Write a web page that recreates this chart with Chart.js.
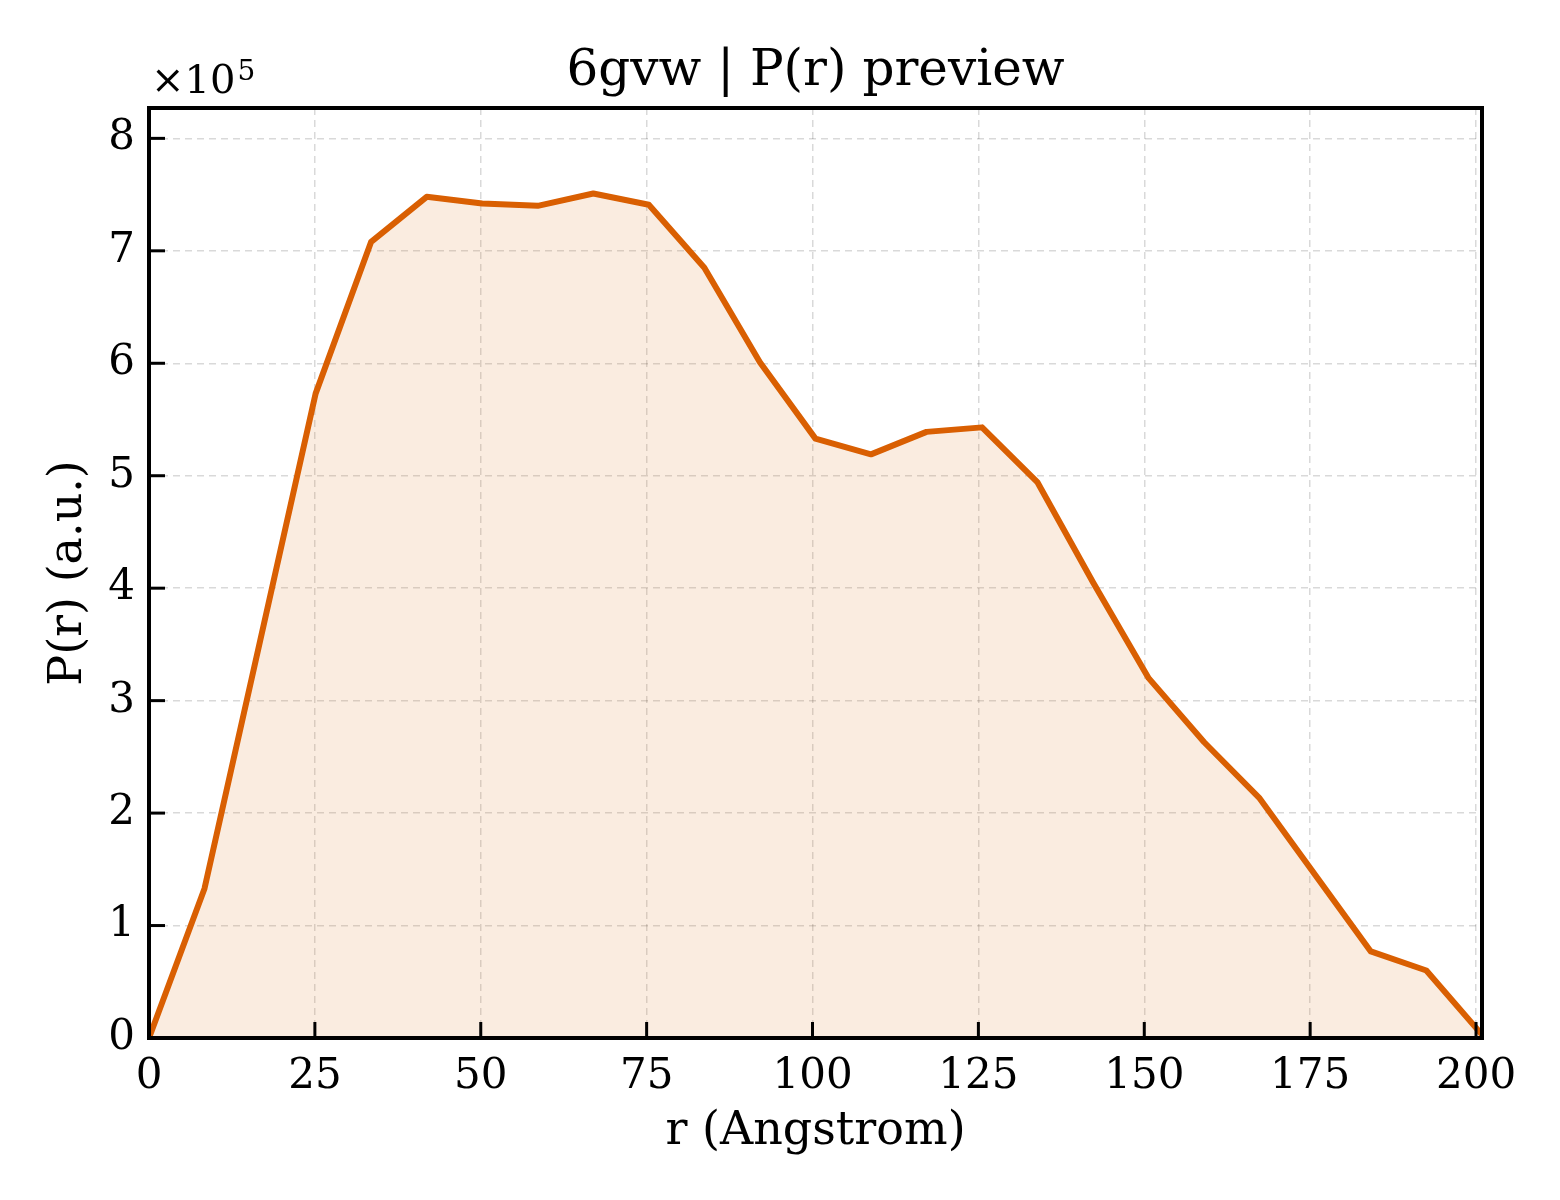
<!DOCTYPE html>
<html>
<head>
<meta charset="utf-8">
<script src="https://cdn.jsdelivr.net/npm/chart.js@4.4.1/dist/chart.umd.min.js"></script>
<style>
	html, body { margin: 0; padding: 0; background: #fff; }
	canvas { display: block; }
</style>
</head>
<body>
<canvas id="chart" width="1560" height="1200"></canvas>
<script>
// r values (Angstrom) and P(r)
const rValues = [
	0, 8.37, 16.74, 25.11, 33.48, 41.85, 50.22, 58.59, 66.96, 75.33,
	83.7, 92.07, 100.44, 108.81, 117.18, 125.55, 133.92, 142.29, 150.66,
	159.03, 167.4, 175.77, 184.14, 192.51, 200.88,
]
const prValues = [
	0, 133000, 353000, 573000, 708000, 748000, 742000, 740000, 751000, 741000,
	685000, 601000, 533000, 519000, 539000, 543000, 494000, 405000, 320000,
	263000, 213000, 145000, 77000, 60000, 3000,
]
const xTicks = [0, 25, 50, 75, 100, 125, 150, 175, 200]
const yTicks = [0, 1, 2, 3, 4, 5, 6, 7, 8]

const lineColor = '#d95f02'
const fontFamily = '"DejaVu Serif", "Liberation Serif", serif'

const points = rValues.map((r, i) => ({ x: r, y: prValues[i] }))

// matplotlib-like frame, inward ticks, title and offset text
const framePlugin = {
	id: 'frame',
	afterDraw(chart) {
		const { ctx, chartArea, scales } = chart
		const { left, right, top, bottom } = chartArea
		ctx.save()
		ctx.strokeStyle = '#000'
		ctx.lineWidth = 3
		scales.y.ticks.forEach((t) => {
			const y = scales.y.getPixelForValue(t.value)
			ctx.beginPath()
			ctx.moveTo(left, y)
			ctx.lineTo(left + 16, y)
			ctx.stroke()
		})
		scales.x.ticks.forEach((t) => {
			const x = scales.x.getPixelForValue(t.value)
			ctx.beginPath()
			ctx.moveTo(x, bottom)
			ctx.lineTo(x, bottom - 16)
			ctx.stroke()
		})
		ctx.lineWidth = 4
		ctx.strokeRect(left, top, right - left, bottom - top)

		ctx.fillStyle = '#000'
		ctx.textBaseline = 'alphabetic'
		ctx.textAlign = 'center'
		ctx.font = `50px ${fontFamily}`
		ctx.fillText('6gvw | P(r) preview', (left + right) / 2, 85)

		ctx.textAlign = 'left'
		ctx.font = `40px ${fontFamily}`
		ctx.fillText('×10', 151, 93)
		const w = ctx.measureText('×10').width
		ctx.font = `28px ${fontFamily}`
		ctx.fillText('5', 151 + w + 2, 80)
		ctx.restore()
	},
}

const context = document.getElementById('chart').getContext('2d')
const chart = new Chart(context, {
	type: 'line',
	data: {
		datasets: [
			{
				data: points,
				borderColor: lineColor,
				borderWidth: 6,
				backgroundColor: 'rgba(217, 95, 2, 0.12)',
				fill: 'origin',
				pointRadius: 0,
				tension: 0,
				borderJoinStyle: 'round',
			},
		],
	},
	options: {
		responsive: false,
		devicePixelRatio: 1,
		animation: false,
		layout: {
			padding: { left: 0, right: 78, top: 108, bottom: 0 },
		},
		plugins: {
			legend: { display: false },
			title: { display: false },
			tooltip: { enabled: false },
		},
		scales: {
			x: {
				type: 'linear',
				min: 0,
				max: 200.9,
				afterBuildTicks: (scale) => {
					scale.ticks = xTicks.map((v) => ({ value: v }))
				},
				ticks: {
					font: { family: fontFamily, size: 42 },
					color: '#000',
					padding: 14,
					maxRotation: 0,
					autoSkip: false,
				},
				grid: {
					color: 'rgba(0, 0, 0, 0.15)',
					lineWidth: 1.5,
					drawTicks: false,
				},
				border: { display: false, dash: [7, 5] },
				title: {
					display: true,
					text: 'r (Angstrom)',
					font: { family: fontFamily, size: 46 },
					color: '#000',
					padding: { top: 0, bottom: 40 },
				},
				afterFit: (scale) => {
					scale.height = 162
				},
			},
			y: {
				min: 0,
				max: 827000,
				afterBuildTicks: (scale) => {
					scale.ticks = yTicks.map((v) => ({ value: v * 100000 }))
				},
				ticks: {
					font: { family: fontFamily, size: 42 },
					color: '#000',
					padding: 14,
					callback: (value) => `${value / 100000}`,
				},
				grid: {
					color: 'rgba(0, 0, 0, 0.15)',
					lineWidth: 1.5,
					drawTicks: false,
				},
				border: { display: false, dash: [7, 5] },
				title: {
					display: true,
					text: 'P(r) (a.u.)',
					font: { family: fontFamily, size: 46 },
					color: '#000',
					padding: { top: 41, bottom: 0 },
				},
				afterFit: (scale) => {
					scale.width = 149
				},
			},
		},
	},
	plugins: [framePlugin],
})
</script>
</body>
</html>
